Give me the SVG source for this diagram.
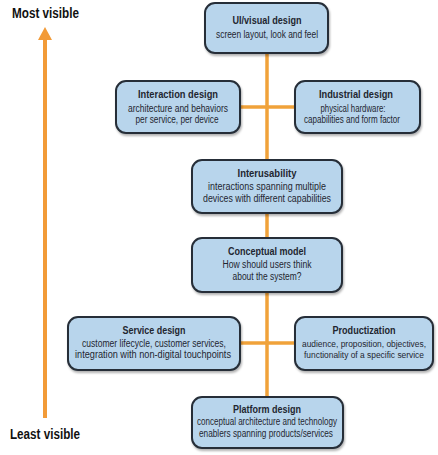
<svg xmlns="http://www.w3.org/2000/svg" width="438" height="455" viewBox="0 0 438 455">
<style>
.box{fill:#b8d5ec;stroke:#262e38;stroke-width:2}
.conn{stroke:#f0a23a;stroke-width:3.5;fill:none}
.t{font-family:"Liberation Sans",Arial,sans-serif;font-weight:bold;font-size:11px;fill:#1f2630;text-anchor:middle}
.s{font-family:"Liberation Sans",Arial,sans-serif;font-size:10px;fill:#1f2630;text-anchor:middle}
.s9{font-family:"Liberation Sans",Arial,sans-serif;font-size:9.2px;fill:#1f2630;text-anchor:middle}
.axis{font-family:"Liberation Sans",Arial,sans-serif;font-weight:bold;font-size:14px;fill:#111}
</style>
<defs>
<filter id="sh" x="-10%" y="-10%" width="125%" height="130%">
<feDropShadow dx="1" dy="2" stdDeviation="1.2" flood-color="#000" flood-opacity="0.3"/>
</filter>
</defs>
<rect width="438" height="455" fill="#fff"/>
<g id="axis">
<line x1="45" y1="38" x2="45" y2="418" stroke="#f29b38" stroke-width="4"/>
<polygon points="45,27 38,40 52,40" fill="#f29b38"/>
<text class="axis" x="12" y="18" textLength="67" lengthAdjust="spacingAndGlyphs">Most visible</text>
<text class="axis" x="10" y="439" textLength="70" lengthAdjust="spacingAndGlyphs">Least visible</text>
</g>
<g id="connectors">
<line class="conn" x1="267" y1="53" x2="267" y2="397"/>
<line class="conn" x1="240" y1="107" x2="295" y2="107"/>
<line class="conn" x1="240" y1="343" x2="295" y2="343"/>
</g>
<g id="ui-visual-design">
<rect class="box" filter="url(#sh)" x="205" y="3" width="123" height="50" rx="10"/>
<text class="t" x="267" y="24" textLength="69" lengthAdjust="spacingAndGlyphs">UI/visual design</text>
<text class="s" x="267" y="38" textLength="102" lengthAdjust="spacingAndGlyphs">screen layout, look and feel</text>
</g>
<g id="interaction-design">
<rect class="box" filter="url(#sh)" x="116" y="81" width="124" height="52" rx="10"/>
<text class="t" x="178" y="98" textLength="80" lengthAdjust="spacingAndGlyphs">Interaction design</text>
<text class="s" x="178" y="112" textLength="100" lengthAdjust="spacingAndGlyphs">architecture and behaviors</text>
<text class="s" x="177" y="123" textLength="83" lengthAdjust="spacingAndGlyphs">per service, per device</text>
</g>
<g id="industrial-design">
<rect class="box" filter="url(#sh)" x="295" y="81" width="125" height="52" rx="10"/>
<text class="t" x="356" y="98" textLength="74" lengthAdjust="spacingAndGlyphs">Industrial design</text>
<text class="s" x="353" y="112" textLength="65" lengthAdjust="spacingAndGlyphs">physical hardware:</text>
<text class="s" x="352" y="123" textLength="96" lengthAdjust="spacingAndGlyphs">capabilities and form factor</text>
</g>
<g id="interusability">
<rect class="box" filter="url(#sh)" x="192" y="160" width="150" height="53" rx="10"/>
<text class="t" x="267" y="177" textLength="59" lengthAdjust="spacingAndGlyphs">Interusability</text>
<text class="s" x="267" y="190" textLength="118" lengthAdjust="spacingAndGlyphs">interactions spanning multiple</text>
<text class="s" x="267" y="202" textLength="128" lengthAdjust="spacingAndGlyphs">devices with different capabilities</text>
</g>
<g id="conceptual-model">
<rect class="box" filter="url(#sh)" x="192" y="238" width="150" height="54" rx="10"/>
<text class="t" x="267" y="255" textLength="78" lengthAdjust="spacingAndGlyphs">Conceptual model</text>
<text class="s" x="267" y="268" textLength="89" lengthAdjust="spacingAndGlyphs">How should users think</text>
<text class="s" x="267" y="280" textLength="69" lengthAdjust="spacingAndGlyphs">about the system?</text>
</g>
<g id="service-design">
<rect class="box" filter="url(#sh)" x="68" y="317" width="172" height="53" rx="10"/>
<text class="t" x="154" y="334" textLength="63" lengthAdjust="spacingAndGlyphs">Service design</text>
<text class="s" x="154" y="347" textLength="144" lengthAdjust="spacingAndGlyphs">customer lifecycle, customer services,</text>
<text class="s" x="153" y="358" textLength="156" lengthAdjust="spacingAndGlyphs">integration with non-digital touchpoints</text>
</g>
<g id="productization">
<rect class="box" filter="url(#sh)" x="295" y="317" width="138" height="53" rx="10"/>
<text class="t" x="364" y="334" textLength="63" lengthAdjust="spacingAndGlyphs">Productization</text>
<text class="s9" x="364" y="347" textLength="124" lengthAdjust="spacingAndGlyphs">audience, proposition, objectives,</text>
<text class="s9" x="364" y="358" textLength="120" lengthAdjust="spacingAndGlyphs">functionality of a specific service</text>
</g>
<g id="platform-design">
<rect class="box" filter="url(#sh)" x="192" y="397" width="151" height="51" rx="10"/>
<text class="t" x="267" y="413" textLength="68" lengthAdjust="spacingAndGlyphs">Platform design</text>
<text class="s" x="267" y="425" textLength="140" lengthAdjust="spacingAndGlyphs">conceptual architecture and technology</text>
<text class="s" x="266" y="437" textLength="134" lengthAdjust="spacingAndGlyphs">enablers spanning products/services</text>
</g>
</svg>
